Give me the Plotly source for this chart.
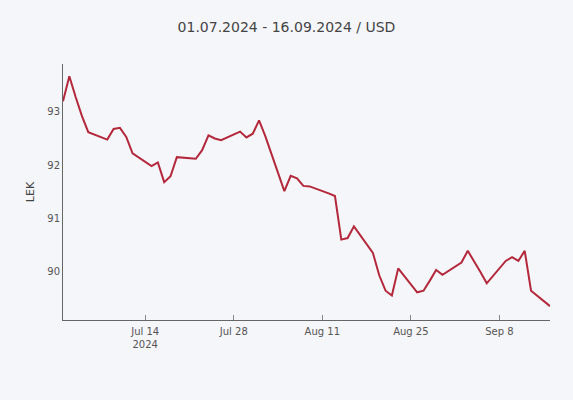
import plotly.graph_objects as go

dates = [
    "2024-07-01", "2024-07-02", "2024-07-03", "2024-07-04", "2024-07-05",
    "2024-07-08", "2024-07-09", "2024-07-10", "2024-07-11", "2024-07-12",
    "2024-07-15", "2024-07-16", "2024-07-17", "2024-07-18", "2024-07-19",
    "2024-07-22", "2024-07-23", "2024-07-24", "2024-07-25", "2024-07-26",
    "2024-07-29", "2024-07-30", "2024-07-31", "2024-08-01", "2024-08-02",
    "2024-08-05", "2024-08-06", "2024-08-07", "2024-08-08", "2024-08-09",
    "2024-08-12", "2024-08-13", "2024-08-14", "2024-08-15", "2024-08-16",
    "2024-08-19", "2024-08-20", "2024-08-21", "2024-08-22", "2024-08-23",
    "2024-08-26", "2024-08-27", "2024-08-28", "2024-08-29", "2024-08-30",
    "2024-09-02", "2024-09-03", "2024-09-04", "2024-09-05", "2024-09-06",
    "2024-09-09", "2024-09-10", "2024-09-11", "2024-09-12", "2024-09-13",
    "2024-09-16",
]
rates = [
    93.20, 93.67, 93.28, 92.92, 92.62,
    92.48, 92.68, 92.70, 92.53, 92.22,
    91.98, 92.05, 91.68, 91.79, 92.15,
    92.12, 92.28, 92.56, 92.50, 92.47,
    92.63, 92.52, 92.59, 92.84, 92.54,
    91.51, 91.80, 91.75, 91.61, 91.60,
    91.47, 91.42, 90.60, 90.63, 90.85,
    90.35, 89.93, 89.64, 89.55, 90.06,
    89.61, 89.64, 89.83, 90.03, 89.94,
    90.17, 90.39, 90.20, 89.99, 89.78,
    90.20, 90.27, 90.20, 90.39, 89.64,
    89.35,
]

title_text = "01.07.2024 - 16.09.2024 / USD"
y_label = "LEK"

BG = "#f5f6fa"
FONT = "DejaVu Sans, Verdana, sans-serif"

fig = go.Figure()
fig.add_trace(go.Scatter(
    x=dates, y=rates, mode="lines",
    line=dict(color="#b3283b", width=2),
    hoverinfo="x+y",
))

fig.update_layout(
    width=573, height=400,
    paper_bgcolor=BG, plot_bgcolor=BG,
    margin=dict(l=63, r=23, t=64, b=80),
    showlegend=False,
    font=dict(family=FONT, color="#555555", size=10),
    title=dict(text=title_text, x=0.5, xanchor="center",
               y=1 - 27 / 400, yanchor="middle", yref="container",
               font=dict(family=FONT, size=14, color="#444444")),
)
fig.update_xaxes(
    type="date",
    range=["2024-07-01", "2024-09-16"],
    tick0="2024-07-14", dtick=14 * 86400000,
    ticks="inside", ticklen=5, tickcolor="#888888",
    ticklabelstandoff=2,
    showline=True, linecolor="#666666", linewidth=1,
    showgrid=False, zeroline=False,
    tickfont=dict(size=10, color="#555555"),
)
fig.update_yaxes(
    range=[89.09, 93.90],
    dtick=1,
    ticks="",
    showline=True, linecolor="#666666", linewidth=1,
    showgrid=False, zeroline=False,
    tickfont=dict(size=10, color="#555555"),
    title=dict(text=y_label, standoff=10, font=dict(size=11, color="#444444")),
)

fig.write_html(
    "out.html",
    config={"displayModeBar": False},
    post_script="document.body.style.margin='0';document.body.style.padding='0';"
                "document.body.style.background='" + BG + "';",
)
